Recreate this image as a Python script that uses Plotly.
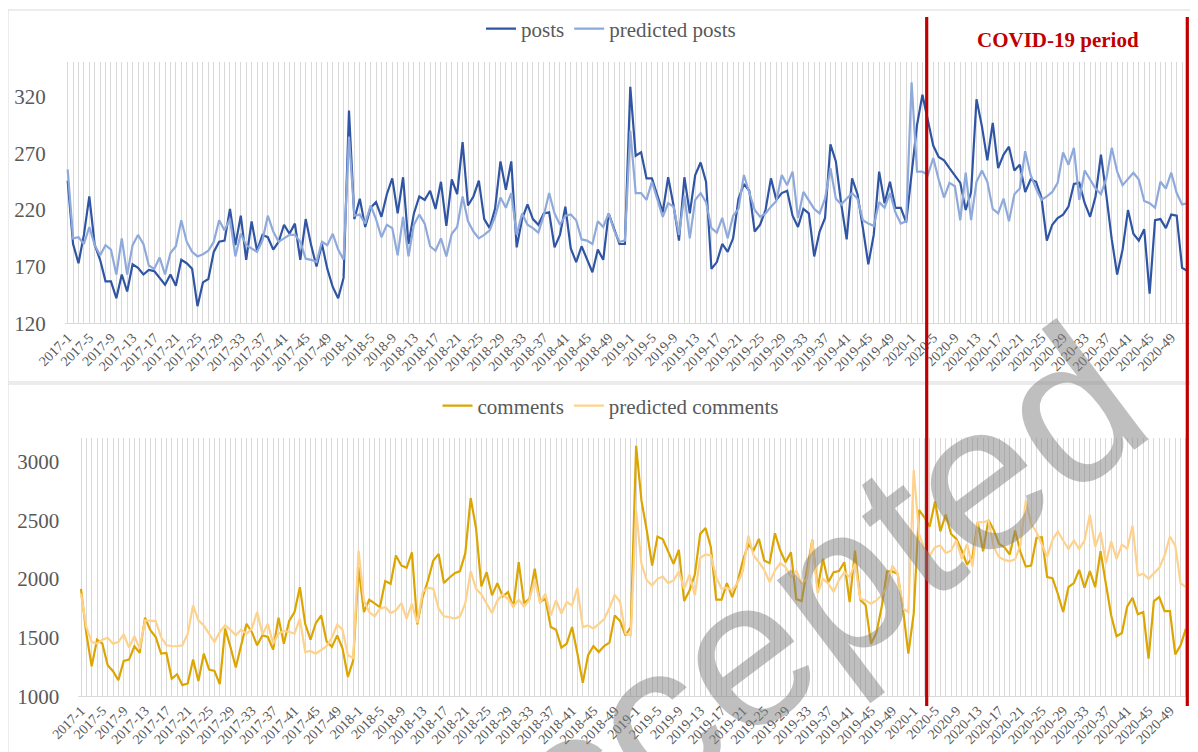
import plotly.graph_objects as go

# ---------------- data ----------------
weeks = [f"{y}-{w}" for y in (2017, 2018, 2019, 2020) for w in range(1, 53)]
tick_labels = [wk if i % 4 == 0 else "" for i, wk in enumerate(weeks)]

posts = [
    246, 190, 173, 198, 232, 189, 176, 157, 157, 142, 163, 148, 172, 169, 163, 167, 166, 160, 154, 163,
    153, 176, 173, 168, 135, 156, 159, 183, 192, 193, 221, 189, 215, 176, 210, 184, 198, 196, 185, 192,
    207, 199, 208, 176, 212, 189, 170, 190, 168, 152, 142, 160, 308,
    212, 230, 205, 222, 227,
    214, 234, 248, 217, 249, 190, 217, 232, 229, 237, 221, 245, 206, 247, 234, 280, 224, 232, 246, 212,
    204, 221, 263, 238, 263, 187, 212, 225, 212, 207, 217, 218, 187, 198, 223, 186, 174, 188, 177, 165,
    185, 176, 217, 204, 190, 190, 329,
    268, 271, 248, 248, 233, 218, 249, 224, 193, 249, 217, 251, 262, 245, 168, 174, 190, 183, 195, 230,
    243, 237, 201, 207, 220, 248, 229, 235, 237, 215, 205,
    221, 217, 179, 201, 213, 278, 263, 225, 194, 248, 234, 204, 172, 198, 254, 226, 245, 222, 222, 209,
    254, 295, 322, 298, 277, 267, 264, 257, 250, 244, 220, 236, 318, 294, 264, 297, 257, 269, 276, 255,
    260, 236, 247, 245, 231, 193, 207, 213, 216, 223, 243, 244, 226, 214, 232, 269, 233, 194, 163, 185,
    220, 199, 193, 203, 146, 211, 212, 204, 216, 215, 169, 166,
]

predicted_posts = [
    256, 195, 196, 190, 205, 189, 180, 189, 185, 163, 195, 163, 189, 198, 190, 171, 168, 178, 163, 182,
    188, 211, 192, 183, 179, 181, 184, 192, 211, 202, 212, 179, 199, 189, 186, 183, 193, 215, 201, 192,
    195, 198, 198, 192, 177, 176, 174, 192, 189, 199, 185, 176, 285,
    215, 216, 208, 224, 212,
    196, 207, 204, 180, 214, 179, 207, 216, 208, 188, 184, 195, 179, 199, 205, 232, 210, 201, 195, 198,
    202, 214, 231, 222, 235, 198, 217, 207, 204, 200, 215, 235, 217, 207, 215, 216, 211, 194, 193, 190,
    210, 205, 217, 202, 192, 193, 290,
    235, 235, 229, 245, 230, 214, 226, 223, 198, 233, 195, 229, 235, 227, 204, 200, 213, 195, 215, 221,
    251, 236, 220, 214, 217, 223, 228, 251, 242, 254, 213,
    236, 228, 221, 217, 230, 257, 230, 225, 230, 235, 230, 211, 208, 206, 227, 222, 235, 218, 208, 210,
    333, 254, 254, 251, 266, 247, 231, 244, 241, 211, 253, 211, 245, 255, 245, 221, 217, 230, 210, 234,
    239, 272, 251, 239, 229, 232, 236, 244, 271, 260, 275, 229, 255, 247, 239, 234, 248, 275, 254, 242,
    248, 253, 247, 228, 226, 222, 245, 239, 253, 235, 225, 226,
]

comments = [
    1916, 1533, 1255, 1482, 1448, 1264, 1213, 1136, 1301, 1312, 1426, 1369, 1670, 1562, 1505, 1363, 1369, 1148, 1187, 1094,
    1108, 1312, 1130, 1363, 1227, 1216, 1102, 1576, 1420, 1244, 1434, 1618, 1548, 1434, 1519, 1505, 1397, 1670, 1448, 1641,
    1718, 1930, 1618, 1482, 1624, 1689, 1468, 1420, 1519, 1406, 1165, 1306,
    2100,
    1718, 1823, 1794, 1760, 1982, 1959, 2200, 2115, 2095, 2228, 1613, 1845, 1987, 2157, 2214, 1965, 2010, 2050, 2067, 2220,
    2691, 2435, 1936, 2058, 1860, 1965, 1851, 1888,
    1760, 2143, 1794, 1831, 2087, 1803, 1831, 1590, 1567, 1414, 1448, 1590, 1363, 1113, 1349, 1428, 1377, 1428, 1457, 1689,
    1641, 1519, 1590, 3136, 2668, 2413, 2115, 2362, 2339, 2228, 2129, 2248, 1811, 1902, 2038, 2384, 2435, 2271, 1823, 1823,
    1965, 1845, 1973, 2157, 2294, 2243, 2342, 2157, 2135, 2390, 2243, 2143, 2228, 1828,
    1811, 2072, 2333, 1916, 2172, 1973, 2058, 2067,
    2143, 1803, 2243, 1823, 1775, 1448, 1539, 1760, 2064, 2064, 2044, 1738, 1363, 1704, 2589, 2526, 2447, 2662, 2407, 2549,
    2384, 2342, 2243, 2123, 2186, 2484, 2237, 2504, 2418, 2299, 2271, 2209, 2413, 2230,
    2106, 2115, 2350, 2356, 2016, 2007, 1874, 1718, 1931, 1965, 2078, 1925, 2067, 1931, 2237, 1959, 1689, 1511, 1539, 1766,
    1840, 1698, 1718, 1321, 1811, 1845, 1726, 1726, 1357, 1434, 1576,
]

predicted_comments = [
    1874, 1590, 1462, 1448, 1482, 1499, 1448, 1462, 1528, 1414, 1511, 1406, 1647, 1641, 1641, 1505, 1434, 1428, 1426, 1434,
    1533, 1775, 1647, 1604, 1528, 1462, 1548, 1604, 1567, 1519, 1567, 1533, 1576, 1718, 1528, 1618, 1448, 1533, 1556, 1548,
    1533, 1661, 1377, 1386, 1363, 1397, 1426, 1500, 1610, 1567, 1349, 1325,
    2243,
    1817, 1718, 1681, 1746, 1760, 1709, 1732, 1794, 1661, 1789, 1624, 1888, 1925, 1916, 1746, 1681, 1675, 1661, 1681, 1794,
    2067, 1916, 1868, 1789, 1709, 1817, 1868, 1831,
    1766, 1823, 1766, 1823, 1993, 1794, 1874, 1689, 1817, 1704, 1803, 1775, 1925, 1590, 1604, 1576, 1618, 1655, 1752, 1865,
    1803, 1533, 1519, 2583, 2129, 1987, 1945, 2001, 2021, 1965, 1987, 2064, 1916, 2038, 1860, 2180, 2209, 2200, 2016, 1916,
    1925, 1902, 1965, 2067, 2370, 2200, 2143, 2078, 1973, 2072, 2135, 2101, 2016, 2072,
    1960, 2000, 2330, 1880, 2000, 1960, 1890, 1990,
    2058, 2016, 2129, 1831, 1817, 1789, 1817, 1860, 1930, 2115, 2044, 1746, 1718, 2929, 2384, 2257, 2200, 2271, 2285, 2220,
    2243, 2328, 2172, 2299, 2106, 2484, 2484, 2498, 2271, 2186, 2163, 2150, 2168,
    2290, 2668, 2470, 2399, 2299, 2192, 2333, 2407, 2328, 2257, 2328, 2257, 2328, 2549, 2277, 2399, 2135, 2322, 2172, 2294,
    2257, 2455, 2030, 2044, 2001, 2050, 2095, 2200, 2362, 2285, 1965, 1931,
]

post_ticks = [120, 170, 220, 270, 320]
comment_ticks = [1000, 1500, 2000, 2500, 3000]

# ---------------- figure ----------------
# the page body has an 8px margin; the figure fills the rest of the 1198x752 window
OFF = 8
W, H = 1198 - OFF, 752 - OFF
SERIF = "Liberation Serif"
TXT = "#595959"
GRID = "#d9d9d9"


def px(x):
    return (x - OFF) / W


def py(y):
    return 1 - (y - OFF) / H


fig = go.Figure()
fig.add_trace(go.Scatter(x=weeks, y=posts, name="posts", mode="lines",
                         line=dict(color="#2F55A4", width=2.2), xaxis="x", yaxis="y", legend="legend"))
fig.add_trace(go.Scatter(x=weeks, y=predicted_posts, name="predicted posts", mode="lines",
                         line=dict(color="#8EA9DB", width=2.2), xaxis="x", yaxis="y", legend="legend"))
fig.add_trace(go.Scatter(x=weeks, y=comments, name="comments", mode="lines",
                         line=dict(color="#DDA500", width=2.2), xaxis="x2", yaxis="y2", legend="legend2"))
fig.add_trace(go.Scatter(x=weeks, y=predicted_comments, name="predicted comments", mode="lines",
                         line=dict(color="#FFD28C", width=2.2), xaxis="x2", yaxis="y2", legend="legend2"))

xcommon = dict(type="category", categoryorder="array", categoryarray=weeks,
               range=[-0.5, len(weeks) - 0.5],
               tickmode="array", tickvals=weeks, ticktext=tick_labels, tickangle=-45,
               showgrid=True, gridcolor=GRID, gridwidth=1,
               showline=True, linecolor=GRID, linewidth=1, ticks="", zeroline=False,
               tickfont=dict(family=SERIF, size=14, color=TXT), automargin=False, fixedrange=True)
ycommon = dict(showgrid=False, zeroline=False, showline=False, ticks="outside", ticklen=14,
               tickcolor="rgba(0,0,0,0)", tickfont=dict(family=SERIF, size=21, color=TXT),
               automargin=False, fixedrange=True)

fig.update_layout(
    width=W, height=H, autosize=False,
    margin=dict(l=0, r=0, t=0, b=0),
    paper_bgcolor="white", plot_bgcolor="white",
    template="none",
    xaxis=dict(xcommon, domain=[px(64.97), px(1190.2)], anchor="y"),
    yaxis=dict(ycommon, domain=[py(322), py(60)], range=[120, 351], tickvals=post_ticks, anchor="x"),
    xaxis2=dict(xcommon, domain=[px(78.33), px(1188.6)], anchor="y2"),
    yaxis2=dict(ycommon, domain=[py(696), py(437.5)], range=[1000, 3200], tickvals=comment_ticks, anchor="x2"),
    legend=dict(orientation="h", x=px(611), xanchor="center", y=py(27), yanchor="middle",
                font=dict(family=SERIF, size=21, color=TXT), bgcolor="rgba(0,0,0,0)",
                itemwidth=30, tracegroupgap=0),
    legend2=dict(orientation="h", x=px(611), xanchor="center", y=py(405), yanchor="middle",
                 font=dict(family=SERIF, size=21, color=TXT), bgcolor="rgba(0,0,0,0)",
                 itemwidth=30, tracegroupgap=0),
    showlegend=True,
)

# panel borders
fig.add_shape(type="rect", xref="paper", yref="paper", x0=px(OFF), x1=px(1210), y0=py(381), y1=py(OFF),
              line=dict(color=GRID, width=1), fillcolor="rgba(0,0,0,0)", layer="below")
fig.add_shape(type="rect", xref="paper", yref="paper", x0=px(OFF), x1=px(1210), y0=py(770), y1=py(383),
              line=dict(color=GRID, width=1), fillcolor="rgba(0,0,0,0)", layer="below")

# COVID-19 period markers
for xx in (926.7, 1187.3):
    fig.add_shape(type="line", xref="paper", yref="paper", x0=px(xx), x1=px(xx), y0=py(706), y1=py(15),
                  line=dict(color="#C00000", width=3.2))
fig.add_annotation(text="<b>COVID-19 period</b>", xref="paper", yref="paper", x=px(1058), y=py(38),
                   xanchor="center", yanchor="middle", showarrow=False,
                   font=dict(family=SERIF, size=21, color="#C00000"))

# watermark
fig.add_annotation(text="Accepted", xref="paper", yref="paper", x=px(766), y=py(636),
                   xanchor="center", yanchor="middle", showarrow=False, textangle=-37,
                   font=dict(family="Liberation Sans", size=210, color="rgba(128,128,128,0.5)"))

fig.write_html("out.html")
